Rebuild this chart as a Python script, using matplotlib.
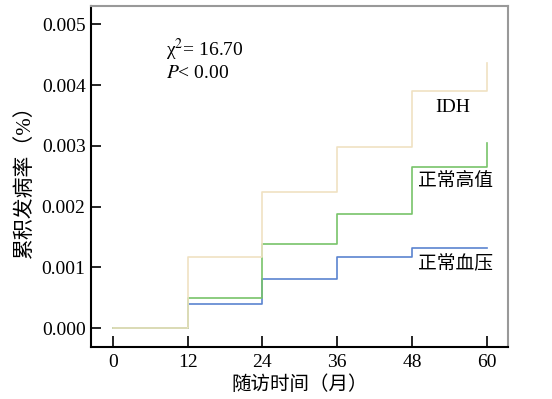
import matplotlib
matplotlib.use('Agg')
import matplotlib.pyplot as plt

plt.rcParams['font.family'] = ['Liberation Serif', 'Noto Sans CJK SC']
plt.rcParams['mathtext.fontset'] = 'stix'

# cumulative incidence, step at each visit
months = [0, 12, 24, 36, 48, 60]
idh = [0, 0.00118, 0.00224, 0.00298, 0.00390, 0.00436]
high_normal = [0, 0.00049, 0.00138, 0.001875, 0.00266, 0.00304]
normal_bp = [0, 0.000395, 0.00081, 0.00117, 0.00132, 0.00132]
yticks = [0.000, 0.001, 0.002, 0.003, 0.004, 0.005]

fig = plt.figure(figsize=(5.52, 3.99), dpi=100)
ax = fig.add_axes([0.165, 0.130, 0.755, 0.855])

ax.step(months, normal_bp, where='post', color='#5b84d0', lw=1.2)
ax.step(months, high_normal, where='post', color='#78c46a', lw=1.2)
ax.step(months, idh, where='post', color='#f0e2c2', lw=1.2)

ax.set_xlim(-3.5, 63.4)
ax.set_ylim(-0.00031, 0.0053)
ax.set_xticks(months)
ax.set_yticks(yticks)
ax.set_yticklabels(['%.3f' % v for v in yticks])
ax.tick_params(direction='in', labelsize=14, width=1.2)
ax.tick_params(axis='y', length=7, pad=4)
ax.tick_params(axis='x', length=8, pad=5)

for s in ['left', 'bottom']:
    ax.spines[s].set_color('black')
    ax.spines[s].set_linewidth(1.5)
for s in ['top', 'right']:
    ax.spines[s].set_color('#999999')
    ax.spines[s].set_linewidth(1.5)

ax.set_xlabel('随访时间（月）', fontsize=14, labelpad=3)
ax.set_ylabel('累积发病率（%）', fontsize=15, labelpad=5)

ax.text(8.6, 0.00457, r'χ$^2$= 16.70', fontsize=14, va='center')
ax.text(8.6, 0.00419, r'$P$< 0.00', fontsize=14, va='center')
ax.text(51.7, 0.00363, 'IDH', fontsize=14, va='center')
ax.text(48.9, 0.00242, '正常高值', fontsize=13.5, va='center')
ax.text(48.9, 0.00105, '正常血压', fontsize=13.5, va='center')

fig.savefig('out.png', dpi=100)
